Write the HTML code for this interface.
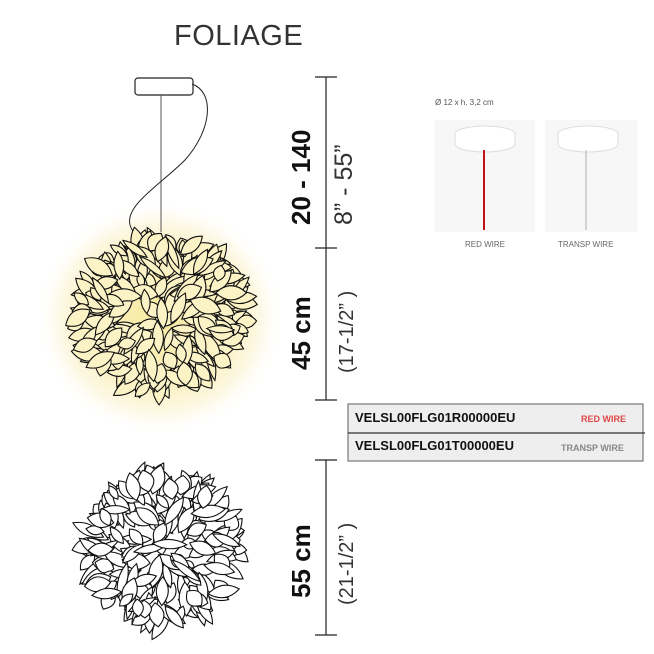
<!DOCTYPE html>
<html><head><meta charset="utf-8"><style>
html,body{margin:0;padding:0;background:#fff;width:654px;height:654px;overflow:hidden;font-family:"Liberation Sans",sans-serif}
.a{position:absolute}
.rot{position:absolute;transform-origin:0 0;transform:rotate(-90deg);white-space:nowrap}
</style></head><body>
<div class="a" style="left:174px;top:20px;font-size:29px;color:#333;letter-spacing:0.5px">FOLIAGE</div>
<svg class="a" style="left:0;top:0" width="654" height="654" id="s">
<defs><radialGradient id="g" cx="0.5" cy="0.5" r="0.5">
<stop offset="0" stop-color="#f8eaa0"/><stop offset="0.55" stop-color="#fbf0c0"/><stop offset="0.8" stop-color="#fdf8e4"/><stop offset="1" stop-color="#fff" stop-opacity="0"/></radialGradient></defs>
<ellipse cx="160" cy="318" rx="125" ry="118" fill="url(#g)"/>
<rect x="135" y="78" width="58" height="17" rx="3" fill="#fff" stroke="#222" stroke-width="1.2"/>
<line x1="161" y1="95" x2="161" y2="232" stroke="#555" stroke-width="1"/>
<path d="M192,84 C215,92 212,130 185,160 C160,185 125,205 130,225 C133,235 140,236 145,238" fill="none" stroke="#222" stroke-width="1"/>
<g id="f1" fill="#fbf3c6" stroke="#111" stroke-width="1.1"></g>
<g id="f2" fill="#fff" stroke="#111" stroke-width="1.1"></g>
<g stroke="#222" stroke-width="1.2">
<line x1="326" y1="77" x2="326" y2="400"/>
<line x1="315" y1="77" x2="337" y2="77"/>
<line x1="315" y1="248" x2="337" y2="248"/>
<line x1="315" y1="400" x2="337" y2="400"/>
<line x1="326" y1="460" x2="326" y2="635"/>
<line x1="315" y1="460" x2="337" y2="460"/>
<line x1="315" y1="635" x2="337" y2="635"/>
</g>
<rect x="348" y="404" width="295" height="57" fill="#eeeeee" stroke="#777" stroke-width="1.2"/>
<line x1="348" y1="433" x2="645" y2="433" stroke="#333" stroke-width="1.2"/>
<rect x="435" y="120" width="100" height="112" fill="#f7f7f7"/>
<rect x="545" y="120" width="92" height="112" fill="#f7f7f7"/>
<path d="M455,134 a30,8 0 0 1 60,0 v10 a30,8 0 0 1 -60,0z" fill="#fff" stroke="#ddd"/>
<line x1="484" y1="150" x2="484" y2="230" stroke="#c0121a" stroke-width="2"/>
<path d="M558,134 a30,8 0 0 1 60,0 v10 a30,8 0 0 1 -60,0z" fill="#fff" stroke="#ddd"/>
<line x1="586" y1="150" x2="586" y2="230" stroke="#bbb" stroke-width="1.2"/>
</svg>
<div class="a" style="left:435px;top:98px;font-size:8px;color:#555">Ø 12 x h. 3,2 cm</div>
<div class="a" style="left:465px;top:240px;font-size:8px;color:#666">RED WIRE</div>
<div class="a" style="left:558px;top:240px;font-size:8px;color:#666">TRANSP WIRE</div>
<div class="a" style="left:355px;top:410px;font-size:13px;font-weight:bold;color:#111">VELSL00FLG01R00000EU</div>
<div class="a" style="left:581px;top:414px;font-size:9px;font-weight:bold;color:#e04848">RED WIRE</div>
<div class="a" style="left:355px;top:438px;font-size:13px;font-weight:bold;color:#111">VELSL00FLG01T00000EU</div>
<div class="a" style="left:561px;top:443px;font-size:9px;font-weight:bold;color:#888">TRANSP WIRE</div>
<div class="rot" style="left:286px;top:225px;font-size:26px;font-weight:bold;color:#111">20 - 140</div>
<div class="rot" style="left:330px;top:225px;font-size:25px;color:#333">8” - 55”</div>
<div class="rot" style="left:286px;top:370px;font-size:26px;font-weight:bold;color:#111">45 cm</div>
<div class="rot" style="left:336px;top:373px;font-size:20px;color:#333">(17-1/2” )</div>
<div class="rot" style="left:286px;top:598px;font-size:26px;font-weight:bold;color:#111">55 cm</div>
<div class="rot" style="left:336px;top:605px;font-size:20px;color:#333">(21-1/2” )</div>
<script>
var seed=7;function r(){seed=(seed*16807)%2147483647;return seed/2147483647;}
function fl(id,cx,cy,rx,ry,n){var g=document.getElementById(id),h="";
for(var i=0;i<n;i++){var a=r()*6.283,d=Math.pow(r(),0.4);var x=cx+Math.cos(a)*rx*d,y=cy+Math.sin(a)*ry*d;
var L=16+r()*20,W=7+r()*9,t=Math.atan2(y-cy,x-cx)*57.3+(r()-0.5)*90;
h+='<path transform="translate('+x.toFixed(1)+','+y.toFixed(1)+') rotate('+t.toFixed(0)+')" d="M'+(-L*0.5).toFixed(1)+',0 Q0,'+(-W)+' '+(L*0.5).toFixed(1)+',0 Q0,'+W+' '+(-L*0.5).toFixed(1)+',0Z"/>';}
g.innerHTML=h;}
fl("f1",161,316,86,76,260);fl("f2",161,549,76,76,230);
</script>
</body></html>
